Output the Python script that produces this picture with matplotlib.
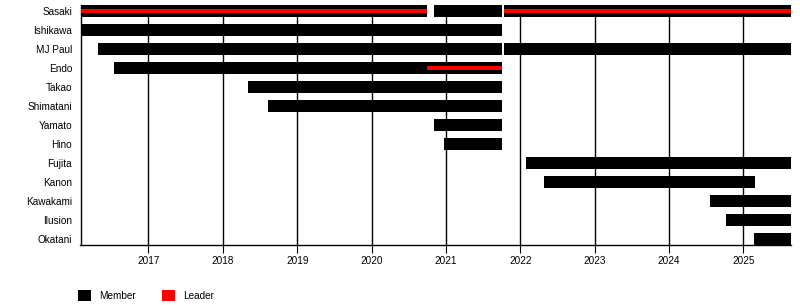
import matplotlib
matplotlib.use("Agg")
import matplotlib.pyplot as plt
from matplotlib.patches import Patch

plt.rcParams['font.family'] = ['Liberation Sans', 'DejaVu Sans']

# band members, top to bottom
members = ["Sasaki", "Ishikawa", "MJ Paul", "Endo", "Takao", "Shimatani",
           "Yamato", "Hino", "Fujita", "Kanon", "Kawakami", "Ilusion", "Okatani"]

# membership periods (decimal years)
member_name = ["Sasaki", "Sasaki", "Sasaki", "Ishikawa", "MJ Paul", "MJ Paul",
               "Endo", "Takao", "Shimatani", "Yamato", "Hino", "Fujita",
               "Kanon", "Kawakami", "Ilusion", "Okatani"]
member_start = [2016.086, 2020.838, 2021.78, 2016.086, 2016.324, 2021.78,
                2016.54, 2018.34, 2018.61, 2020.838, 2020.98, 2022.08,
                2022.32, 2024.55, 2024.76, 2025.14]
member_end = [2020.75, 2021.748, 2025.64, 2021.748, 2021.748, 2025.64,
              2021.748, 2021.748, 2021.748, 2021.748, 2021.748, 2025.64,
              2025.15, 2025.64, 2025.64, 2025.64]

# leader periods
leader_name = ["Sasaki", "Endo", "Sasaki"]
leader_start = [2016.086, 2020.74, 2021.78]
leader_end = [2020.75, 2021.748, 2025.64]

years = [2017, 2018, 2019, 2020, 2021, 2022, 2023, 2024, 2025]
x_min, x_max = 2016.086, 2025.64

fig = plt.figure(figsize=(8, 3.05), dpi=100)
ax = fig.add_axes([80.5 / 800, 1 - 245.3 / 305, (791 - 80.5) / 800, (245.3 - 5) / 305])

rows = {name: i for i, name in enumerate(members)}

m_y = [rows[n] for n in member_name]
m_w = [e - s for s, e in zip(member_start, member_end)]
ax.barh(m_y, m_w, left=member_start, height=0.62, color='black', zorder=3)

l_y = [rows[n] for n in leader_name]
l_w = [e - s for s, e in zip(leader_start, leader_end)]
ax.barh(l_y, l_w, left=leader_start, height=0.21, color='#ff0000', zorder=4)

ax.set_xlim(x_min, x_max)
ax.set_ylim(len(members) - 1 + 0.31, -0.31)
ax.set_yticks(range(len(members)))
ax.set_yticklabels(members)
ax.set_xticks(years)
ax.set_xticklabels([str(y) for y in years])

for y in years:
    ax.axvline(y, color='black', lw=1, zorder=1)

for side in ['top', 'right']:
    ax.spines[side].set_visible(False)
ax.spines['left'].set_linewidth(1)
ax.spines['bottom'].set_linewidth(1)
ax.spines['bottom'].set_zorder(5)

ax.tick_params(axis='y', length=0, pad=6, labelsize=7.2)
ax.tick_params(axis='x', length=6, width=0.8, pad=2, labelsize=7.2, direction='out')

handles = [Patch(facecolor='black', edgecolor='none', label='Member'),
           Patch(facecolor='#ff0000', edgecolor='none', label='Leader')]
fig.legend(handles=handles, loc='lower left', bbox_to_anchor=(78 / 800, 4 / 305),
           ncol=2, frameon=False, fontsize=7.2, handlelength=1.25, handleheight=1.25,
           handletextpad=0.9, columnspacing=2.6, borderpad=0, borderaxespad=0)

fig.savefig("out.png", dpi=100)
